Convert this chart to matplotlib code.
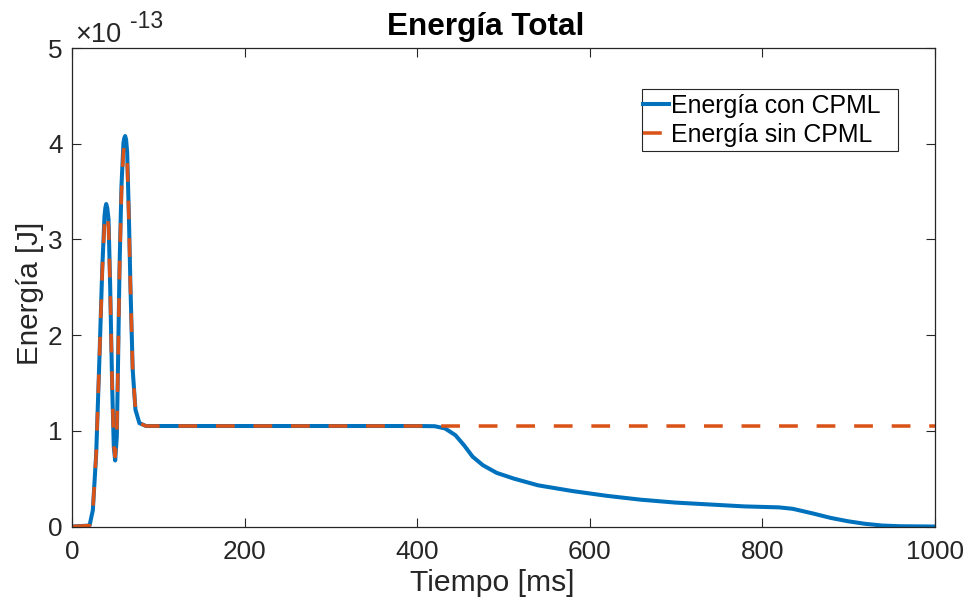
import matplotlib
matplotlib.use("Agg")
import matplotlib.pyplot as plt
from matplotlib.patches import Rectangle
from matplotlib.ticker import FuncFormatter

# ---- data (time in ms, energy in units of 1e-13 J) ----
t_con = [0, 20, 23.8, 27.7, 31.6, 34.7, 37.3, 38.3, 39.3, 40.5, 42, 43.9, 46.2, 48.1,
         49.7, 51.6, 53.2, 54.7, 57, 59.3, 60.3, 61.3, 62.4, 63.6, 65.5, 67.4, 70,
         73.2, 77.8, 85.5, 200, 400, 420, 432, 444, 454, 464, 476, 492, 512, 540,
         580, 620, 659, 699, 739, 779, 819, 835, 859, 879, 899, 919, 939, 959, 995, 1000]
e_con = [0, 0.01, 0.17, 0.76, 1.80, 2.69, 3.24, 3.33, 3.37, 3.33, 3.21, 2.51, 1.47, 0.83,
         0.69, 0.94, 1.81, 2.69, 3.56, 4.01, 4.06, 4.08, 4.04, 3.91, 3.28, 2.51, 1.64,
         1.22, 1.08, 1.05, 1.05, 1.05, 1.048, 1.025, 0.955, 0.85, 0.73, 0.64, 0.56, 0.50,
         0.43, 0.37, 0.32, 0.28, 0.25, 0.23, 0.21, 0.20, 0.185, 0.135, 0.09, 0.055, 0.028,
         0.01, 0.003, 0.0, 0.0]

t_sin = [0, 20, 23.8, 27.7, 31.6, 34.7, 37.3, 38.3, 39.3, 40.5, 42, 43.9, 46.2, 48.1,
         49.7, 51.6, 53.2, 54.7, 57, 59.3, 60.3, 61.3, 62.4, 63.6, 65.5, 67.4, 70,
         73.2, 77.8, 85.5, 200, 400, 600, 800, 1000]
e_sin = [0, 0.01, 0.17, 0.76, 1.80, 2.66, 3.17, 3.24, 3.27, 3.24, 3.13, 2.48, 1.47, 0.85,
         0.73, 0.96, 1.81, 2.67, 3.50, 3.92, 3.96, 3.97, 3.95, 3.83, 3.24, 2.49, 1.64,
         1.22, 1.08, 1.05, 1.05, 1.05, 1.05, 1.05, 1.05]

scale = 1e-13
x_ticks = [0, 200, 400, 600, 800, 1000]
y_ticks = [0, 1, 2, 3, 4, 5]
labels = ["Energía con CPML", "Energía sin CPML"]

plt.rcParams['font.family'] = ['Liberation Sans', 'DejaVu Sans']

fig = plt.figure(figsize=(9.66, 6.05), dpi=100)
W, H = 966, 605
L, R, T, B = 72.3, 935, 48, 526.5
ax = fig.add_axes([L / W, (H - B) / H, (R - L) / W, (B - T) / H])

ax.plot(t_con, [v * scale for v in e_con], color='#0072BD', lw=2.9,
        label=labels[0], solid_joinstyle='round')
ax.plot(t_sin, [v * scale for v in e_sin], color='#D95319', lw=2.55,
        dashes=(5.3, 5.3), label=labels[1])

ax.set_xlim(0, 1000)
ax.set_ylim(0, 5 * scale)
ax.set_xticks(x_ticks)
ax.set_yticks([v * scale for v in y_ticks])
ax.yaxis.set_major_formatter(FuncFormatter(lambda v, p: f"{v / scale:g}"))

axc = '#262626'
for s in ax.spines.values():
    s.set_color(axc)
    s.set_linewidth(0.9)
ax.tick_params(direction='in', length=6.5, width=0.8, colors=axc,
               labelsize=18.8, top=True, right=True)
ax.tick_params(axis='x', pad=10)
ax.tick_params(axis='y', pad=7)
for lab in ax.get_xticklabels() + ax.get_yticklabels():
    lab.set_color(axc)

ax.set_xlabel("Tiempo [ms]", fontsize=21.7, color=axc)
ax.xaxis.set_label_coords((492.5 - L) / (R - L), (B - 569) / (B - T))
ax.set_ylabel("Energía [J]", fontsize=21.3, color=axc)
ax.yaxis.set_label_coords((44 - L) / (R - L), (B - 293) / (B - T))
ax.set_title("Energía Total", fontsize=22.7, fontweight='bold',
             x=(486 - L) / (R - L), pad=9)

ax.text((75 - L) / (R - L), (B - 42) / (B - T), "×10", transform=ax.transAxes,
        fontsize=19.5, color=axc, ha='left', va='baseline')
ax.text((130 - L) / (R - L), (B - 28) / (B - T), "-13", transform=ax.transAxes,
        fontsize=16.5, color=axc, ha='left', va='baseline')

# legend box
ax.add_patch(Rectangle((642 / W, (H - 151) / H), 256 / W, 62 / H,
                       transform=fig.transFigure, facecolor='white',
                       edgecolor=axc, lw=0.8, zorder=4, clip_on=False))
leg = ax.legend(loc='upper left', bbox_to_anchor=(642.5 / W, (H - 94) / H),
                bbox_transform=fig.transFigure, fontsize=17.9, frameon=False,
                handlelength=1.05, handletextpad=0.1, borderpad=0.0,
                labelspacing=0.2, borderaxespad=0)
leg.set_zorder(5)

fig.savefig("out.png", dpi=100)
